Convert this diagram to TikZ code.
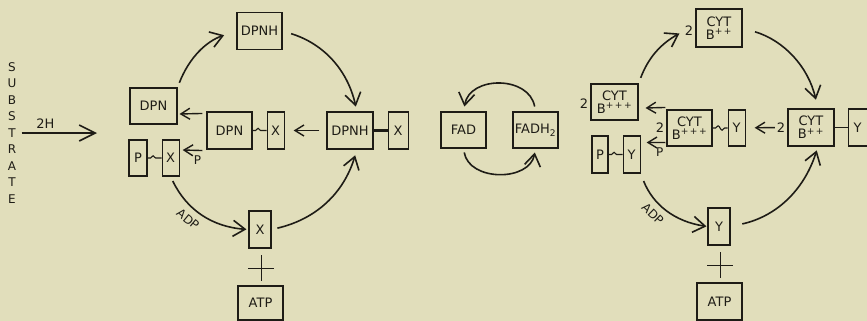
\documentclass[tikz,border=0pt]{standalone}
\usepackage{fontspec}
\setmainfont{DejaVu Sans}
\usepackage{tikz}
\usetikzlibrary{arrows.meta,positioning,decorations.pathmorphing}
\definecolor{paper}{RGB}{225,222,187}
\definecolor{ink}{RGB}{30,28,22}

\begin{document}
\begin{tikzpicture}[x=1pt,y=-1pt,node distance=14pt,
  box/.style={draw=ink,line width=1.1pt,minimum width=45pt,minimum height=37pt,inner sep=1pt,align=center,text=ink,font=\fontsize{13}{13}\selectfont},
  slim/.style={box,minimum width=17pt},
  lab/.style={text=ink,inner sep=1pt,font=\fontsize{12}{12}\selectfont},
  num/.style={lab,font=\fontsize{13}{13}\selectfont},
  big/.style={draw=ink,line width=1.6pt,-{Straight Barb[length=16pt,width=16pt]}},
  cyc/.style={draw=ink,line width=1.6pt,-{Straight Barb[length=12pt,width=16pt]}},
  arr/.style={draw=ink,line width=1.4pt,-{Straight Barb[length=9pt,width=11pt]}},
  sq/.style={draw=ink,line width=1.1pt,decorate,decoration={snake,segment length=8pt,amplitude=2.2pt,pre length=3pt,post length=3pt}},
  plus/.style={fill=paper,minimum size=26pt,inner sep=0pt,path picture={\draw[ink,line width=1pt] (path picture bounding box.north) -- (path picture bounding box.south) (path picture bounding box.west) -- (path picture bounding box.east);}}]
\fill[paper] (0,0) rectangle (867,321);
\useasboundingbox (0,0) rectangle (867,321);

\node[lab,align=center,font=\fontsize{12}{16.5}\selectfont] (subst) at (12,133) {S\\U\\B\\S\\T\\R\\A\\T\\E};
\coordinate (entry) at (97,133);

\node[box] (dpnhT) at (259.5,31) {DPNH};
\node[box,minimum width=47pt,minimum height=36pt] (dpnL) at (153.5,106) {DPN};
\node[box] (dpnx) at (229.5,130.5) {DPN};
\node[slim,right=of dpnx] (xa) {X};
\node[box,minimum width=46pt] (dpnhR) at (350,130.5) {DPNH};
\node[slim,minimum width=20pt,right=of dpnhR] (xb) {X};
\node[slim,minimum width=18pt,minimum height=36pt] (pL) at (138,158) {P};
\node[slim,minimum height=36pt,right=of pL] (xp) {X};
\node[slim,minimum width=22pt] (xB) at (260,229.5) {X};
\node[plus] (plusL) at (261,268) {};
\node[box,minimum height=34pt] (atpL) at (260.5,303) {ATP};

\node[box,minimum height=36pt] (fad) at (463.5,130) {FAD};
\node[box,minimum height=36pt] (fadh) at (535.5,130) {FADH\textsubscript{2}};

\node[box,minimum width=46pt,minimum height=38pt] (cytT) at (719,28) {CYT\\B\textsuperscript{+\,+}};
\node[num,left=1pt of cytT,yshift=-3pt] (twoT) {2};
\node[box,minimum width=47pt,minimum height=36pt] (cytL) at (614.5,102) {CYT\\B\textsuperscript{+\,+\,+}};
\node[num,left=1pt of cytL,yshift=-2pt] (twoL) {2};
\node[box,minimum height=36pt] (cytM) at (689.5,128) {CYT\\B\textsuperscript{+\,+\,+}};
\node[num,left=1pt of cytM] (twoM) {2};
\node[slim,minimum height=36pt,right=15pt of cytM] (yM) {Y};
\node[box,minimum width=46pt] (cytR) at (811,127.5) {CYT\\B\textsuperscript{+\,+}};
\node[num,left=1pt of cytR] (twoR) {2};
\node[slim,minimum width=19pt,right=13pt of cytR] (yR) {Y};
\node[slim,minimum width=16pt] (pR) at (600,154.5) {P};
\node[slim,right=of pR] (yp) {Y};
\node[slim,minimum width=22pt] (yB) at (719,226.5) {Y};
\node[plus] (plusR) at (720,265) {};
\node[box] (atpR) at (719.5,301.5) {ATP};

\draw[big,shorten <=4pt] (subst.east) -- node[num,above=3pt,pos=0.35]{2H} (entry);

\draw[arr] ([shift={(-4,2)}]dpnx.north west) -- ([shift={(2,8)}]dpnL.east);
\draw[arr] ([shift={(-4,1)}]dpnx.south west) -- node[lab,below=4pt,pos=0.25]{P} ([shift={(3,-8)}]xp.east);
\draw[arr,shorten <=7pt,shorten >=9pt] (dpnhR) -- (xa);
\draw[ink,line width=2.2pt] (dpnhR) -- (xb);
\draw[sq] (dpnx) -- (xa);
\draw[sq] (pL) -- (xp);
\draw[cyc,shorten <=5pt,shorten >=13pt] (dpnL.north east) to[bend left=25] (dpnhT.west);
\draw[cyc,shorten <=9pt,shorten >=5pt] (dpnhT.east) to[bend left=30] (dpnhR.70);
\draw[cyc,shorten <=6pt,shorten >=6pt] (xB.east) to[bend right=30] (dpnhR.-70);
\draw[cyc,shorten <=5pt,shorten >=2pt] (xp.south) to[bend right=30] node[lab,sloped,below=6pt,pos=0.42]{ADP} (xB.west);

\draw[cyc,shorten <=5pt,shorten >=5pt] (fadh.north) to[bend right=80,looseness=1.3] (fad.north);
\draw[cyc,shorten <=4pt,shorten >=4pt] (fad.south) to[bend right=80,looseness=1.2] (fadh.south);

\draw[arr] ([shift={(-1,-2)}]cytM.north west) -- ([shift={(7,6)}]cytL.east);
\draw[arr] ([shift={(-1,-4)}]cytM.south west) -- node[lab,below=4pt,pos=0.3]{P} ([shift={(6,-12)}]yp.east);
\draw[arr,shorten <=1pt,shorten >=9pt] (twoR) -- (yM);
\draw[ink,line width=1pt] (cytR) -- (yR);
\draw[sq] (cytM) -- (yM);
\draw[sq] (pR) -- (yp);
\draw[cyc,shorten <=6pt,shorten >=5pt] (cytL.north east) to[bend left=20] (twoT.west);
\draw[cyc,shorten <=13pt,shorten >=9pt] (cytT.east) to[bend left=30] (cytR.70);
\draw[cyc,shorten <=12pt,shorten >=4pt] (yB.east) to[bend right=30] (cytR.-70);
\draw[cyc,shorten <=8pt,shorten >=1pt] (yp.south east) to[bend right=30] node[lab,sloped,below=6pt,pos=0.42]{ADP} (yB.west);
\end{tikzpicture}
\end{document}
